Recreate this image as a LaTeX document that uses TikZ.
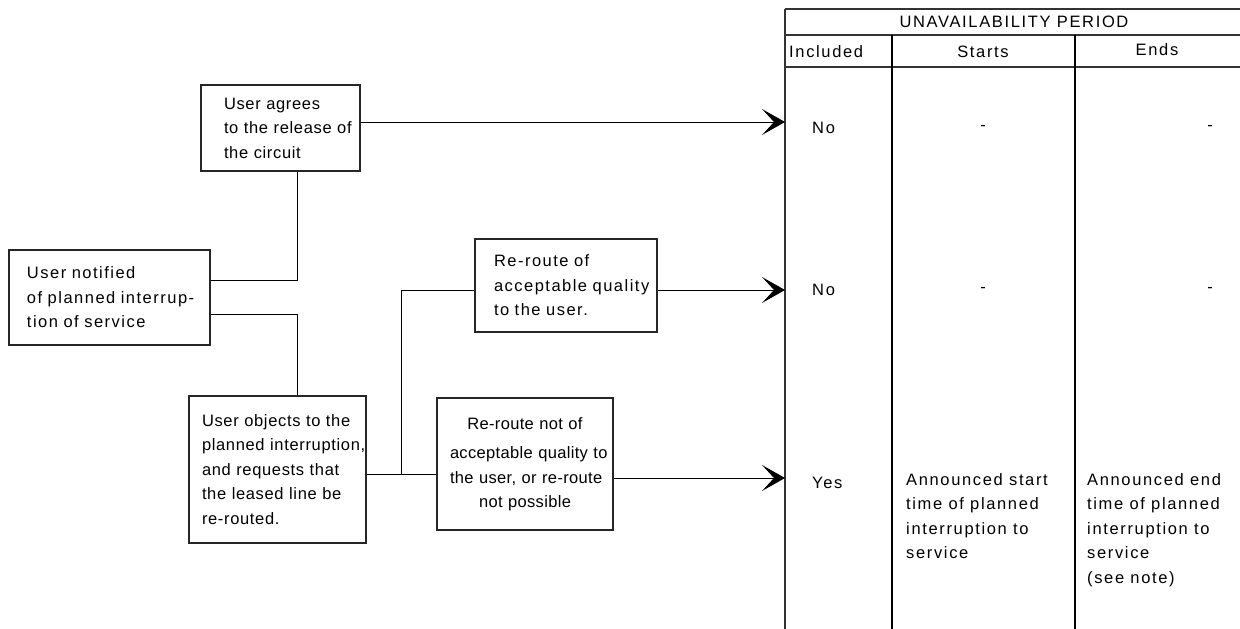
\documentclass[tikz,border=0pt]{standalone}
\usepackage{fontspec}
\setmainfont{Liberation Sans}
\newfontfamily\boxfont[LetterSpace=4]{Liberation Sans}
\newfontfamily\nboxfont[LetterSpace=2]{Liberation Sans}
\newfontfamily\wboxfont[LetterSpace=9]{Liberation Sans}
\newfontfamily\tabfont[LetterSpace=10]{Liberation Sans}
\usetikzlibrary{arrows.meta}
\begin{document}
\begin{tikzpicture}[x=1pt,y=1pt,
  box/.style={draw=black!85, line width=1.1pt, inner xsep=0pt, inner ysep=0pt, align=left,
    font={\boxfont\fontsize{16.5}{24.5}\selectfont}},
  wbox/.style={box, font={\wboxfont\fontsize{16.5}{24.5}\selectfont}},
  nbox/.style={box, font={\nboxfont\fontsize{16.5}{24.5}\selectfont}},
  conn/.style={draw=black, line width=1pt},
  arr/.style={conn, -{Stealth[length=23pt,width=26pt,inset=12pt]}},
  tab/.style={font={\tabfont\fontsize{16.5}{24.5}\selectfont}, inner sep=0pt, align=left},
  rule/.style={draw=black!80, line width=1.1pt},
  colrule/.style={draw=black, line width=2pt}]
\useasboundingbox (0,0) rectangle (1240,-629);

% boxes
\node[box, minimum width=159, minimum height=86, text width=113] (agree) at (280.5,-128)
  {\mbox{User agrees}\\\mbox{to the release of}\\\mbox{the circuit}};
\node[wbox, minimum width=201, minimum height=95, text width=165] (notified) at (109.5,-297.5)
  {\mbox{User notified}\\\mbox{of planned interrup-}\\\mbox{tion of service}};
\node[box, minimum width=177, minimum height=147, text width=151] (objects) at (277.5,-469.5)
  {\mbox{User objects to the}\\\mbox{planned interruption,}\\\mbox{and requests that}\\\mbox{the leased line be}\\\mbox{re-routed.}};
\node[wbox, minimum width=182, minimum height=93, text width=144] (reok) at (566,-285.5)
  {\mbox{Re-route of}\\\mbox{acceptable quality}\\\mbox{to the user.}};
\node[nbox, align=center, minimum width=176, minimum height=132, text width=150] (renot) at (525,-464)
  {\mbox{Re-route not of}\\[5pt]\mbox{acceptable quality to}\\\mbox{the user, or re-route}\\\mbox{not possible}};

% junctions
\coordinate (ja) at (297,-280);
\coordinate (jb) at (297,-314);
\coordinate (jc) at (401,-474);
\coordinate (jd) at (401,-290);
\draw[conn] (notified.east |- ja) -- (ja) -- (agree.south -| ja);
\draw[conn] (notified.east |- jb) -- (jb) -- (objects.north -| jb);
\draw[conn] (objects.east |- jc) -- (renot.west |- jc);
\draw[conn] (jc) -- (jd) -- (reok.west |- jd);

% table
\coordinate (t1) at (785,-122);
\coordinate (t2) at (785,-290);
\coordinate (t3) at (785,-478);
\draw[rule] (785,-9) -- (1240,-9);
\draw[rule] (785,-35) -- (1240,-35);
\draw[rule] (785,-67) -- (1240,-67);
\draw[rule] (785,-9) -- (785,-629);
\draw[colrule] (892,-35) -- (892,-629);
\draw[colrule] (1075,-35) -- (1075,-629);

\draw[arr] (agree.east |- t1) -- (t1);
\draw[arr] (reok.east |- t2) -- (t2);
\draw[arr] (renot.east |- t3) -- (t3);

\node[tab] (hdr) at (1014,-22) {UNAVAILABILITY PERIOD};
\node[tab, anchor=west] (inc) at (789,-52) {Included};
\node[tab] (sts) at (983,-52) {Starts};
\node[tab] (ens) at (1157,-50) {Ends};

\node[tab, anchor=west] (no1) at (812,-128) {No};
\node[tab] (s1) at (983,-128) {-};
\node[tab] (e1) at (1210,-128) {-};
\node[tab, anchor=west] (no2) at (812,-290) {No};
\node[tab] (s2) at (983,-290) {-};
\node[tab] (e2) at (1210,-290) {-};
\node[tab, anchor=west] (yes) at (812,-483) {Yes};
\node[tab, anchor=north west] (sta) at (906,-473)
  {Announced start\\time of planned\\interruption to\\service};
\node[tab, anchor=north west] (enda) at (1087,-473)
  {Announced end\\time of planned\\interruption to\\service\\(see note)};
\end{tikzpicture}
\end{document}
